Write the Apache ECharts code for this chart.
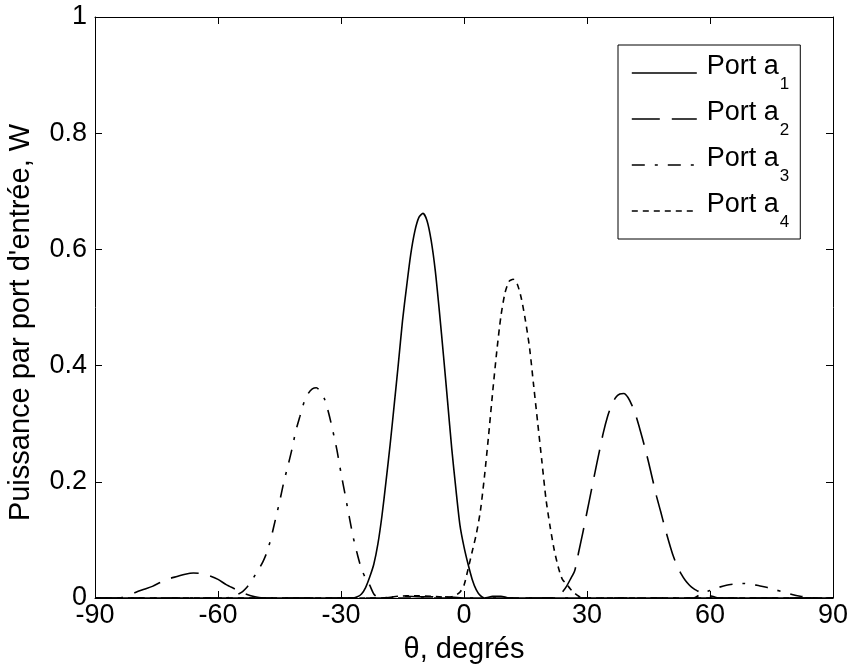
<!DOCTYPE html>
<html><head><meta charset="utf-8">
<script src="https://cdn.jsdelivr.net/npm/echarts@6/dist/echarts.min.js"></script>
<style>html,body{margin:0;padding:0;background:#fff}#c{width:850px;height:672px}</style>
</head><body><div id="c"></div>
<script>
// Axis ticks
const thetaTicks = [-90, -60, -30, 0, 30, 60, 90];
const powerTicks = [0, 0.2, 0.4, 0.6, 0.8, 1];
const portSubs = ['1', '2', '3', '4'];
const xTitle = 'θ, degrés';
const yTitle = "Puissance par port d'entrée, W";

// Port a1 (solid)
const theta1 = [-90, -27, -26, -25, -24, -23, -22, -21, -20, -19, -18, -17, -16, -15, -14, -13, -12, -11, -10, -9, -8, -7, -6, -5, -4, -3, -2, -1, 0, 1, 2, 3, 4, 5, 7, 9, 11, 90];
const power1 = [0, 0, 0.002, 0.007, 0.018, 0.036, 0.058, 0.093, 0.142, 0.202, 0.265, 0.334, 0.404, 0.477, 0.536, 0.591, 0.631, 0.655, 0.662, 0.649, 0.615, 0.563, 0.493, 0.417, 0.338, 0.258, 0.189, 0.126, 0.088, 0.058, 0.032, 0.014, 0.004, 0, 0.003, 0.003, 0, 0];

// Port a2 (long dash)
const theta2 = [-90, -84, -82, -80, -78, -76, -74, -72, -70, -68, -66, -64, -62, -60, -58, -56, -54, -52, -50, -48, -20, -15, -10, -5, 0, 22, 23, 24, 25, 26, 27, 28, 29, 30, 31, 32, 33, 34, 35, 36, 37, 38, 39, 40, 41, 42, 43, 44, 45, 46, 47, 48, 49, 50, 51, 52, 53, 54, 55, 56, 57, 58, 59, 60, 61, 62, 90];
const power2 = [0, 0, 0.004, 0.01, 0.015, 0.02, 0.027, 0.033, 0.037, 0.041, 0.043, 0.042, 0.038, 0.032, 0.023, 0.016, 0.009, 0.004, 0.001, 0, 0, 0.003, 0.002, 0.002, 0, 0, 0.002, 0.01, 0.02, 0.033, 0.047, 0.08, 0.113, 0.148, 0.183, 0.218, 0.252, 0.285, 0.312, 0.332, 0.345, 0.351, 0.352, 0.345, 0.331, 0.312, 0.288, 0.262, 0.234, 0.204, 0.174, 0.148, 0.121, 0.096, 0.073, 0.055, 0.041, 0.030, 0.022, 0.016, 0.012, 0.008, 0.006, 0.004, 0.002, 0, 0];

// Port a3 (dash-dot)
const theta3 = [-90, -58, -56, -55, -54, -53, -52, -51, -50, -49, -48, -47, -46, -45, -44, -43, -42, -41, -40, -39, -38, -37, -36, -35, -34, -33, -32, -31, -30, -29, -28, -27, -26, -25, -24, -23, -22, -21, -20, 56, 58, 60, 62, 64, 66, 68, 70, 72, 74, 76, 78, 80, 82, 84, 86, 90];
const power3 = [0, 0, 0.004, 0.007, 0.011, 0.018, 0.027, 0.039, 0.05, 0.063, 0.08, 0.105, 0.135, 0.165, 0.198, 0.226, 0.255, 0.288, 0.313, 0.337, 0.352, 0.36, 0.362, 0.355, 0.342, 0.318, 0.288, 0.255, 0.215, 0.178, 0.14, 0.104, 0.075, 0.05, 0.034, 0.022, 0.007, 0.001, 0, 0, 0.008, 0.013, 0.018, 0.022, 0.024, 0.025, 0.024, 0.021, 0.018, 0.014, 0.01, 0.006, 0.003, 0.001, 0, 0];

// Port a4 (dotted)
const theta4 = [-90, -20, -16, -12, -8, -4, -3, -2, -1, 0, 1, 2, 3, 4, 5, 6, 7, 8, 9, 10, 11, 12, 13, 14, 15, 16, 17, 18, 19, 20, 21, 22, 23, 24, 25, 26, 27, 28, 29, 90];
const power4 = [0, 0, 0.003, 0.004, 0.003, 0.001, 0.002, 0.005, 0.01, 0.022, 0.05, 0.08, 0.11, 0.15, 0.21, 0.28, 0.355, 0.425, 0.485, 0.525, 0.545, 0.5485, 0.54, 0.515, 0.477, 0.43, 0.365, 0.30, 0.235, 0.17, 0.123, 0.083, 0.053, 0.032, 0.024, 0.015, 0.008, 0.003, 0, 0];

const FONT = "'Liberation Sans', Arial, Helvetica, sans-serif";
const pairs = (xs, ys) => xs.map((x, i) => [x, ys[i]]);
const dashes = ['solid', [28, 12], [13, 10, 3, 10], [6, 5]];
const thetaList = [theta1, theta2, theta3, theta4];
const powerList = [power1, power2, power3, power4];

const chart = echarts.init(document.getElementById('c'), null, {renderer: 'canvas'});
const xBase = {
  type: 'value', min: thetaTicks[0], max: thetaTicks[thetaTicks.length - 1],
  interval: thetaTicks[1] - thetaTicks[0],
  axisLine: {show: true, onZero: false, lineStyle: {color: '#000', width: 1}},
  axisTick: {show: true, inside: true, length: 7, lineStyle: {color: '#000', width: 1}},
  splitLine: {show: false}
};
const yBase = {
  type: 'value', min: powerTicks[0], max: powerTicks[powerTicks.length - 1],
  interval: powerTicks[1] - powerTicks[0],
  axisLine: {show: true, onZero: false, lineStyle: {color: '#000', width: 1}},
  axisTick: {show: true, inside: true, length: 7, lineStyle: {color: '#000', width: 1}},
  splitLine: {show: false}
};
chart.setOption({
  animation: false,
  backgroundColor: '#fff',
  grid: {left: 95, right: 17, top: 17, bottom: 74, outerBoundsMode: 'none', containLabel: false},
  xAxis: [
    Object.assign({}, xBase, {
      position: 'bottom',
      axisLabel: {show: true, color: '#000', fontSize: 27, fontFamily: FONT, margin: 4},
      name: xTitle, nameLocation: 'middle', nameGap: 37,
      nameTextStyle: {color: '#000', fontSize: 29, fontFamily: FONT, verticalAlign: 'top'}
    }),
    Object.assign({}, xBase, {position: 'top', axisLabel: {show: false}})
  ],
  yAxis: [
    Object.assign({}, yBase, {
      position: 'left',
      axisLabel: {show: true, color: '#000', fontSize: 27, fontFamily: FONT, margin: 8},
      name: yTitle, nameLocation: 'middle', nameGap: 60,
      nameTextStyle: {color: '#000', fontSize: 29, fontFamily: FONT, padding: [0, 30, 0, 0]}
    }),
    Object.assign({}, yBase, {position: 'right', axisLabel: {show: false}})
  ],
  legend: {
    orient: 'vertical', left: 618, top: 45,
    padding: [8, 11, 8, 13], itemGap: 6, itemWidth: 65, itemHeight: 12,
    borderColor: '#000', borderWidth: 1, borderRadius: 0, backgroundColor: '#fff',
    selectedMode: false,
    itemStyle: {opacity: 0, borderWidth: 0},
    lineStyle: {color: '#000', width: 1.6},
    data: portSubs.map(s => 'Port a' + s),
    formatter: name => '{m|Port a}{s|' + name.slice(-1) + '}',
    textStyle: {
      color: '#000', fontFamily: FONT,
      rich: {
        m: {fontSize: 27, fontFamily: FONT, color: '#000', verticalAlign: 'top', padding: [0, 0, 0, 5]},
        s: {fontSize: 17, fontFamily: FONT, color: '#000', verticalAlign: 'bottom', padding: [23, 0, 0, 1]}
      }
    }
  },
  series: portSubs.map((s, i) => ({
    name: 'Port a' + s,
    type: 'line',
    xAxisIndex: 0, yAxisIndex: 0,
    data: pairs(thetaList[i], powerList[i]),
    showSymbol: false, symbol: 'none',
    smooth: 0.25,
    lineStyle: {color: '#000', width: 1.6, type: dashes[i]},
    itemStyle: {color: '#000'},
    emphasis: {disabled: true}
  }))
});
</script></body></html>
